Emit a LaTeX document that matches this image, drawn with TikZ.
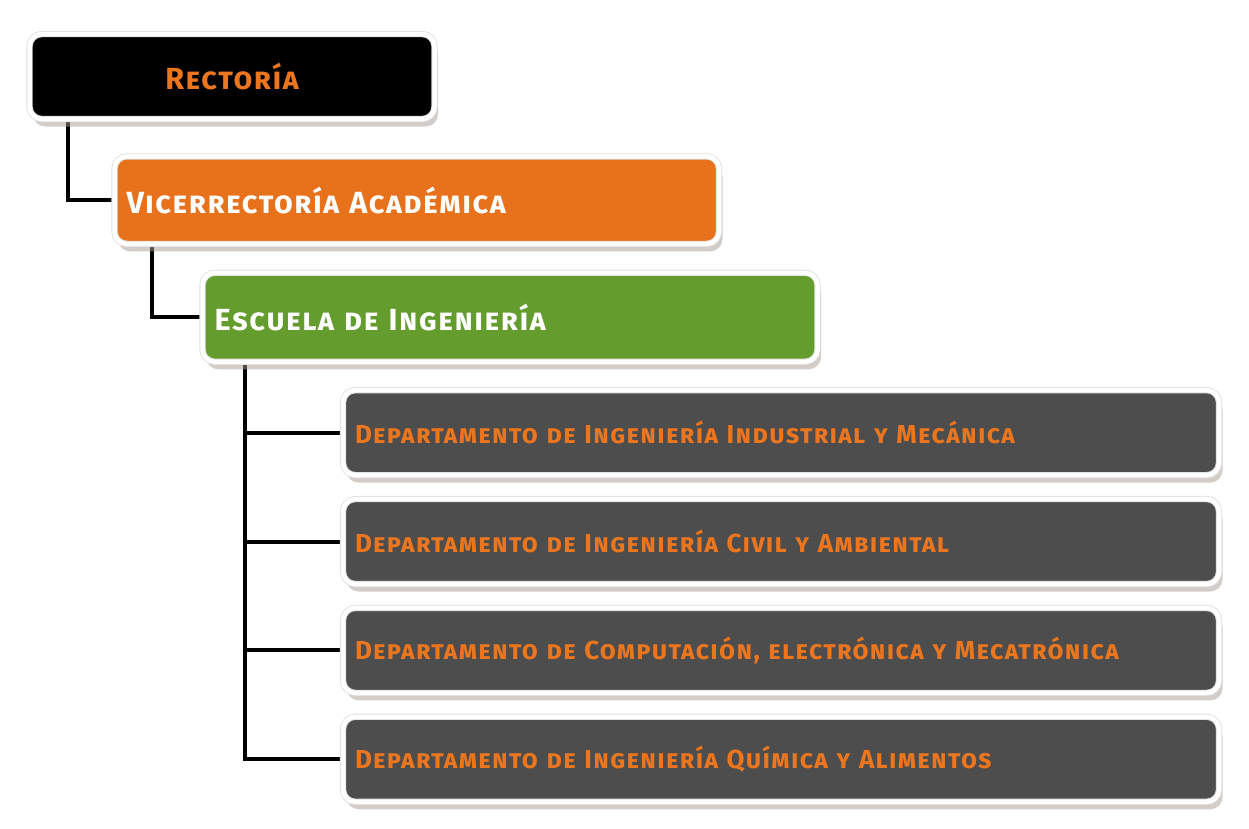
\documentclass[tikz,border=0pt]{standalone}
\usepackage{fontspec}
\setmainfont{Fira Sans}
\newfontfamily\orgfont[LetterSpace=5]{Fira Sans}
\usetikzlibrary{positioning,shadows,backgrounds}
\definecolor{rectblack}{RGB}{0,0,0}
\definecolor{viceorange}{RGB}{232,113,28}
\definecolor{schoolgreen}{RGB}{101,156,46}
\definecolor{deptgray}{RGB}{77,77,77}
\definecolor{textorange}{RGB}{236,118,30}
\definecolor{shadowgray}{RGB}{168,155,148}
\tikzset{
    unit/.style={
           rectangle,
           rounded corners=7pt,
           draw=black!12,
           line width=0.5pt,
           double=white,
           double distance=0.09cm,
           inner xsep=0.24cm,
           inner ysep=0pt,
           minimum height=1.7cm,
           font=\orgfont\fontsize{17.4}{20}\selectfont\bfseries\scshape,
           drop shadow={shadow xshift=0.07cm,shadow yshift=-0.15cm,fill=shadowgray},
           },
    dept/.style={
           unit,
           fill=deptgray,
           text=textorange,
           text width=17.04cm,
           align=left,
           font=\orgfont\fontsize{14.8}{16}\selectfont\bfseries\scshape,
           },
    link/.style={
           draw=black,
           line width=0.08cm,
           },
}
\begin{document}
\begin{tikzpicture}
\useasboundingbox (0,0) rectangle (24.98,-16.56);
\node[unit,fill=rectblack,text=textorange,minimum width=8.1cm] (rectoria) at (4.64,-1.53) {Rectoría};
\node[unit,fill=viceorange,text=white,text width=11.61cm,align=left,minimum height=1.75cm,
      below=0.73cm of rectoria.south west,anchor=north west,xshift=1.7cm] (vice) {Vicerrectoría Académica};
\node[unit,fill=schoolgreen,text=white,text width=11.82cm,align=left,minimum height=1.78cm,
      below=0.56cm of vice.south west,anchor=north west,xshift=1.76cm] (escuela) {Escuela de Ingeniería};
\node[dept,below=0.55cm of escuela.south west,anchor=north west,xshift=2.81cm] (indmec) {Departamento de Ingeniería Industrial y Mecánica};
\node[dept,below=0.46cm of indmec] (civamb) {Departamento de Ingeniería Civil y Ambiental};
\node[dept,below=0.46cm of civamb] (compel) {Departamento de Computación, electrónica y Mecatrónica};
\node[dept,below=0.46cm of compel] (quimal) {Departamento de Ingeniería Química y Alimentos};
\begin{scope}[on background layer]
\draw[link] ([xshift=0.77cm]rectoria.south west) |- (vice.west);
\draw[link] ([xshift=0.75cm]vice.south west) |- (escuela.west);
\draw[link] ([xshift=0.85cm]escuela.south west) |- (indmec.west);
\draw[link] ([xshift=0.85cm]escuela.south west) |- (civamb.west);
\draw[link] ([xshift=0.85cm]escuela.south west) |- (compel.west);
\draw[link] ([xshift=0.85cm]escuela.south west) |- (quimal.west);
\end{scope}
\end{tikzpicture}
\end{document}
